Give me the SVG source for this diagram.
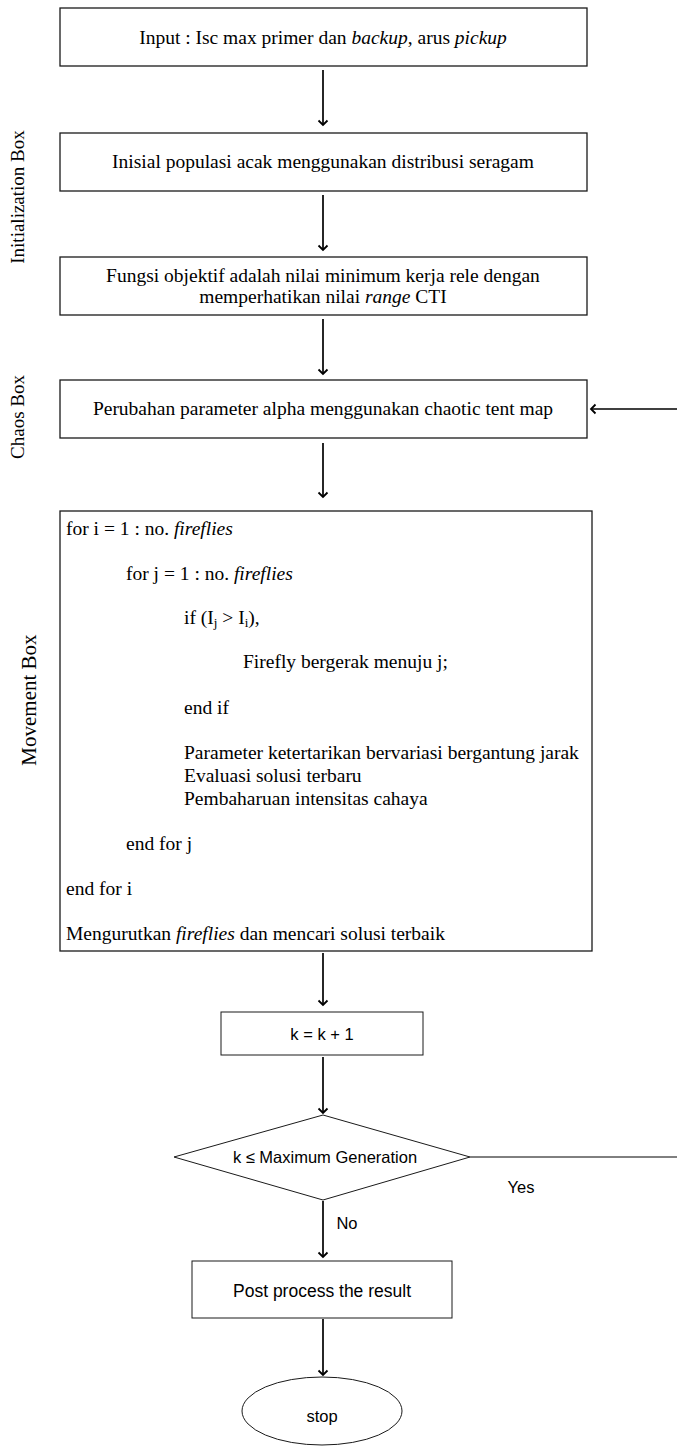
<svg xmlns="http://www.w3.org/2000/svg" width="677" height="1447" viewBox="0 0 677 1447">
<style>
.box{fill:#fff;stroke:#1a1a1a;stroke-width:1.3}
.thin{fill:#fff;stroke:#1a1a1a;stroke-width:1}
.serif{font-family:"Liberation Serif","Times New Roman",serif;font-size:19.5px;fill:#000}
.lbl{font-family:"Liberation Serif","Times New Roman",serif;font-size:19px;fill:#000}
.sans{font-family:"Liberation Sans",Arial,sans-serif;font-size:16.5px;fill:#000}
.conn{fill:none;stroke:#000;stroke-width:1.7}
.line{fill:none;stroke:#000;stroke-width:1}
</style>
<defs>
<marker id="ah" markerUnits="userSpaceOnUse" markerWidth="12" markerHeight="12" refX="6" refY="6" orient="auto" viewBox="0 0 12 12">
<path d="M1.5,1.5 L6,6 L1.5,10.5" fill="none" stroke="#000" stroke-width="1.8"/>
</marker>
</defs>

<g id="side-labels">
<text class="lbl" transform="translate(24,197) rotate(-90)" text-anchor="middle">Initialization Box</text>
<text class="lbl" transform="translate(24,417) rotate(-90)" text-anchor="middle">Chaos Box</text>
<text class="lbl" transform="translate(36,700) rotate(-90)" text-anchor="middle" style="font-size:21px">Movement Box</text>
</g>

<g id="connectors">
<line class="conn" x1="323" y1="70" x2="323" y2="125" marker-end="url(#ah)"/>
<line class="conn" x1="323" y1="195" x2="323" y2="250" marker-end="url(#ah)"/>
<line class="conn" x1="323" y1="319" x2="323" y2="374" marker-end="url(#ah)"/>
<line class="conn" x1="323" y1="443" x2="323" y2="497" marker-end="url(#ah)"/>
<line class="conn" x1="323" y1="953" x2="323" y2="1005" marker-end="url(#ah)"/>
<line class="conn" x1="323" y1="1057" x2="323" y2="1113" marker-end="url(#ah)"/>
<line class="conn" x1="323" y1="1201" x2="323" y2="1257" marker-end="url(#ah)"/>
<line class="conn" x1="323" y1="1319" x2="323" y2="1375" marker-end="url(#ah)"/>
<line class="line" x1="470" y1="1157" x2="677" y2="1157"/>
<line class="conn" x1="677" y1="409" x2="591" y2="409" marker-end="url(#ah)"/>
<text class="sans" x="521" y="1193" text-anchor="middle">Yes</text>
<text class="sans" x="347" y="1229" text-anchor="middle">No</text>
</g>

<g id="input">
<rect class="box" x="60" y="8" width="527" height="58"/>
<text class="serif" x="323" y="44" text-anchor="middle">Input : Isc max primer dan <tspan font-style="italic">backup</tspan>, arus <tspan font-style="italic">pickup</tspan></text>
</g>

<g id="init-pop">
<rect class="box" x="60" y="133" width="527" height="58"/>
<text class="serif" x="323" y="168" text-anchor="middle">Inisial populasi acak menggunakan distribusi seragam</text>
</g>

<g id="objective">
<rect class="box" x="60" y="257" width="527" height="58"/>
<text class="serif" x="323" y="282" text-anchor="middle">Fungsi objektif adalah nilai minimum kerja rele dengan</text>
<text class="serif" x="323" y="303" text-anchor="middle">memperhatikan nilai <tspan font-style="italic">range</tspan> CTI</text>
</g>

<g id="chaos">
<rect class="box" x="60" y="380" width="527" height="58"/>
<text class="serif" x="323" y="415" text-anchor="middle">Perubahan parameter alpha menggunakan chaotic tent map</text>
</g>

<g id="movement">
<rect class="box" x="60" y="511" width="532" height="440"/>
<text class="serif" x="66" y="535">for i = 1 : no. <tspan font-style="italic">fireflies</tspan></text>
<text class="serif" x="126" y="580">for j = 1 : no. <tspan font-style="italic">fireflies</tspan></text>
<text class="serif" x="184" y="624">if (I<tspan baseline-shift="-3" font-size="13">j</tspan> &gt; I<tspan baseline-shift="-3" font-size="13">i</tspan>),</text>
<text class="serif" x="243" y="668">Firefly bergerak menuju j;</text>
<text class="serif" x="184" y="714">end if</text>
<text class="serif" x="184" y="759">Parameter ketertarikan bervariasi bergantung jarak</text>
<text class="serif" x="184" y="782">Evaluasi solusi terbaru</text>
<text class="serif" x="184" y="805">Pembaharuan intensitas cahaya</text>
<text class="serif" x="126" y="850">end for j</text>
<text class="serif" x="66" y="895">end for i</text>
<text class="serif" x="66" y="940">Mengurutkan <tspan font-style="italic">fireflies</tspan> dan mencari solusi terbaik</text>
</g>

<g id="increment">
<rect class="thin" x="221" y="1012" width="202" height="43"/>
<text class="sans" x="322" y="1040" text-anchor="middle">k = k + 1</text>
</g>

<g id="decision">
<polygon class="thin" points="174,1157 323,1115 470,1157 323,1200"/>
<text class="sans" x="325" y="1163" text-anchor="middle">k ≤ Maximum Generation</text>
</g>

<g id="post">
<rect class="thin" x="192" y="1261" width="260" height="57"/>
<text class="sans" x="322" y="1297" text-anchor="middle" style="font-size:17.5px">Post process the result</text>
</g>

<g id="stop">
<ellipse class="thin" cx="322" cy="1411" rx="80" ry="34"/>
<text class="sans" x="322" y="1422" text-anchor="middle">stop</text>
</g>
</svg>
